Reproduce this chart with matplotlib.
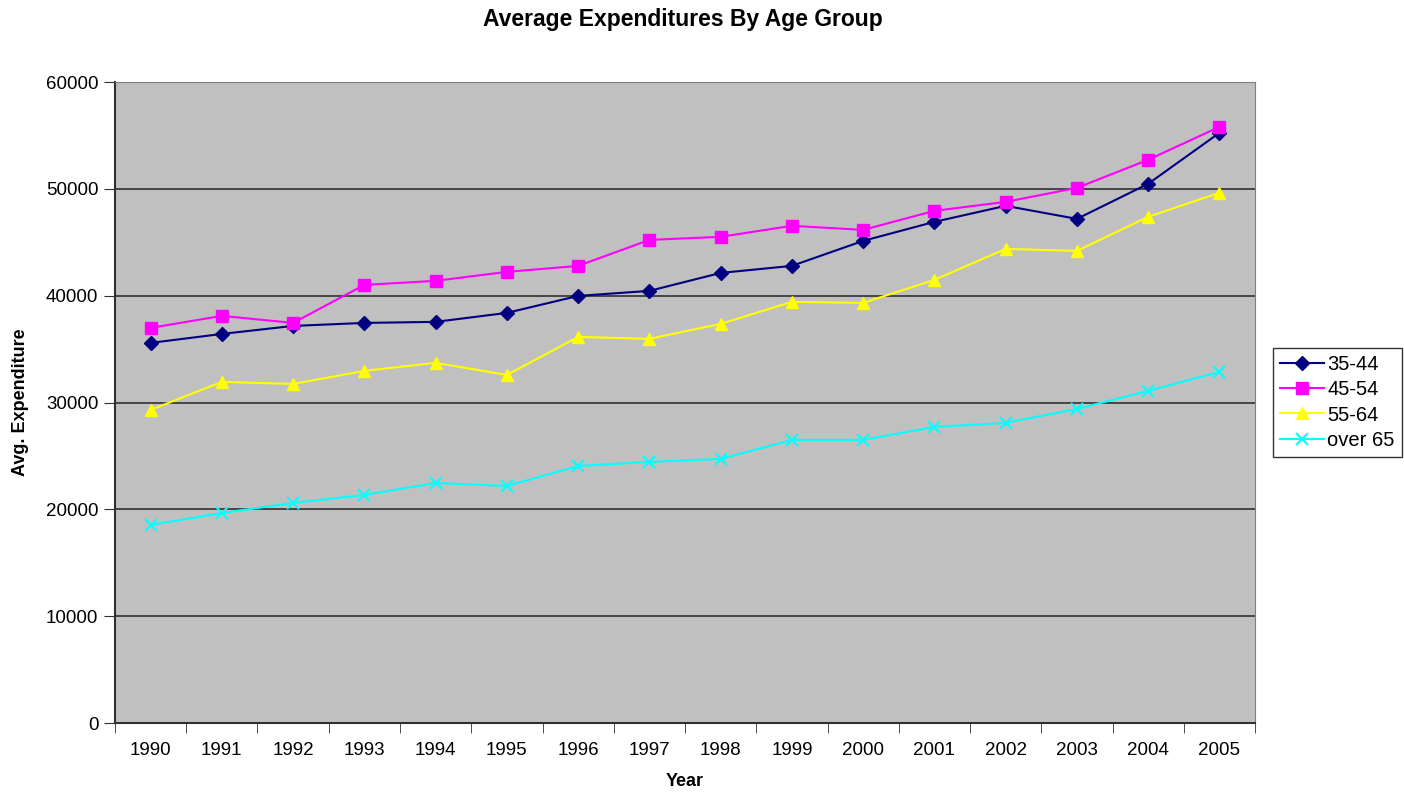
import numpy as np
import matplotlib
matplotlib.use('Agg')
import matplotlib.pyplot as plt
from matplotlib.ticker import FixedLocator, NullFormatter

plt.rcParams['font.family'] = ['Liberation Sans', 'DejaVu Sans']

years = ['1990', '1991', '1992', '1993', '1994', '1995', '1996', '1997',
         '1998', '1999', '2000', '2001', '2002', '2003', '2004', '2005']

age_35_44 = [35580, 36420, 37170, 37450, 37550, 38390, 39980, 40450,
             42130, 42790, 45130, 46910, 48410, 47190, 50470, 55240]
age_45_54 = [36985, 38110, 37450, 41010, 41390, 42230, 42790, 45220,
             45510, 46540, 46160, 47940, 48780, 50090, 52720, 55800]
age_55_64 = [29310, 31930, 31740, 32960, 33710, 32580, 36140, 35960,
             37360, 39420, 39330, 41480, 44380, 44190, 47380, 49630]
over_65 = [18540, 19660, 20600, 21350, 22470, 22190, 24060, 24440,
           24720, 26500, 26500, 27720, 28090, 29400, 31090, 32870]

fig = plt.figure(figsize=(14.04, 7.94), dpi=100)
ax = fig.add_axes([0.0819, 0.0894, 0.812, 0.8073])
ax.set_facecolor('#c0c0c0')

x = np.arange(len(years))
ax.plot(x, age_35_44, color='#000080', marker='D', ms=7, lw=1.5, label='35-44')
ax.plot(x, age_45_54, color='#ff00ff', marker='s', ms=8, lw=1.5, label='45-54')
ax.plot(x, age_55_64, color='#ffff00', marker='^', ms=9, lw=1.5, label='55-64')
ax.plot(x, over_65, color='#00ffff', marker='x', ms=9, mew=1.5, lw=1.5, label='over 65')

ax.set_xlim(-0.5, len(years) - 0.5)
ax.set_ylim(0, 60000)
ax.set_yticks(np.arange(0, 60001, 10000))
ax.yaxis.grid(True, color='#303030', lw=1.2)
ax.set_axisbelow(True)

ax.set_xticks(x)
ax.set_xticklabels(years)
ax.xaxis.set_minor_locator(FixedLocator(np.arange(-0.5, len(years), 1)))
ax.xaxis.set_minor_formatter(NullFormatter())
ax.tick_params(axis='x', which='major', length=0, pad=14, labelsize=13.5)
ax.tick_params(axis='x', which='minor', length=7, direction='out', color='#303030')
ax.tick_params(axis='y', length=8, pad=4, direction='out', labelsize=13.5, color='#303030')

for side in ['top', 'right']:
    ax.spines[side].set_color('#808080')
for side in ['left', 'bottom']:
    ax.spines[side].set_color('#303030')
    ax.spines[side].set_linewidth(1.5)

ax.set_xlabel('Year', fontsize=13, fontweight='bold', labelpad=10)
ax.set_ylabel('Avg. Expenditure', fontsize=13, fontweight='bold', labelpad=12)
fig.suptitle('Average Expenditures By Age Group', fontsize=16.5, fontweight='bold',
             x=0.4865, y=0.99)

leg = ax.legend(loc='center left', bbox_to_anchor=(1.0155, 0.5), fontsize=14.5,
                frameon=True, fancybox=False, edgecolor='black', handlelength=2.2,
                borderpad=0.35, labelspacing=0.3, handletextpad=0.15, borderaxespad=0)
leg.get_frame().set_linewidth(1.0)

fig.savefig('out.png', dpi=100)
